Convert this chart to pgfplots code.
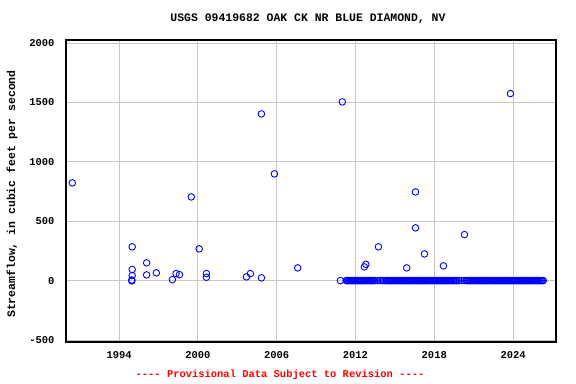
\documentclass[border=0pt]{standalone}
\usepackage{fontspec}
\setmainfont{Liberation Mono}[Ligatures=TeXOff]
\usepackage{pgfplots}
\pgfplotsset{compat=1.18}
\begin{document}
\begin{tikzpicture}
\useasboundingbox (-66bp,-42bp) rectangle (510bp,342bp);
\begin{axis}[
  at={(0,0)}, anchor=south west,
  scale only axis, width=490bp, height=302bp,
  xmin=1989.96, xmax=2027.27, ymin=-517, ymax=2025,
  xtick={1994,2000,2006,2012,2018,2024},
  ytick={-500,0,500,1000,1500,2000},
  xticklabels={1994,2000,2006,2012,2018,2024},
  yticklabels={-500,0,500,1000,1500,2000},
  grid=major, major grid style={draw=black!22, line width=0.8pt},
  major tick length=0pt,
  axis line style={line width=1.1pt},
  tick label style={font=\fontsize{10.5}{12}\selectfont\bfseries},
  /pgf/number format/assume math mode=true,
  xticklabel style={yshift=-6bp},
  yticklabel style={xshift=-8bp},
  clip=false,
]
\addplot[only marks, mark=o, mark size=3.3pt, blue, mark options={line width=0.9pt}] table {
x y
1990.44 822
2004.84 1403
2005.83 898
1999.50 704
1995.00 284
2000.10 267
1996.10 149
1995.00 93
2007.60 107
1995.00 42
1994.97 5
1994.97 -3
1996.10 48
1996.84 65
1998.06 8
1998.34 59
1998.60 50
2000.65 59
2000.65 28
2003.70 31
2004.00 59
2004.84 23
2011.00 1504
2023.80 1574
2016.57 746
2016.57 444
2013.75 284
2020.30 387
2017.25 224
2012.79 137
2012.68 115
2015.90 107
2018.70 124
2010.85 0
};
\addplot[only marks, mark=o, mark size=3.3pt, blue, mark options={line width=0.9pt}] table {
x y
2011.30 0
2011.38 0
2011.46 0
2011.55 0
2011.62 0
2011.70 0
2011.78 0
2011.86 0
2011.94 0
2012.02 0
2012.10 0
2012.18 0
2012.26 0
2012.34 0
2012.42 0
2012.50 0
2012.58 0
2012.66 0
2012.74 0
2012.82 0
2012.90 0
2012.98 0
2013.06 0
2013.14 0
2013.22 0
2013.30 0
2013.38 0
2013.50 0
2013.70 0
2013.90 0
2014.05 0
2014.15 0
2014.25 0
2014.35 0
2014.45 0
2014.55 0
2014.63 0
2014.71 0
2014.79 0
2014.87 0
2014.95 0
2015.03 0
2015.11 0
2015.19 0
2015.27 0
2015.35 0
2015.43 0
2015.51 0
2015.59 0
2015.67 0
2015.75 0
2015.83 0
2015.91 0
2015.99 0
2016.07 0
2016.15 0
2016.23 0
2016.31 0
2016.39 0
2016.47 0
2016.55 0
2016.63 0
2016.71 0
2016.79 0
2016.87 0
2016.95 0
2017.03 0
2017.11 0
2017.19 0
2017.27 0
2017.35 0
2017.43 0
2017.51 0
2017.59 0
2017.67 0
2017.75 0
2017.83 0
2017.91 0
2017.99 0
2018.07 0
2018.15 0
2018.23 0
2018.31 0
2018.39 0
2018.47 0
2018.55 0
2018.63 0
2018.71 0
2018.79 0
2018.87 0
2018.95 0
2019.03 0
2019.11 0
2019.19 0
2019.27 0
2019.35 0
2019.43 0
2019.51 0
2019.59 0
2019.67 0
2019.75 0
2019.90 0
2020.10 0
2020.30 0
2020.45 0
2020.55 0
2020.63 0
2020.71 0
2020.79 0
2020.87 0
2020.95 0
2021.03 0
2021.11 0
2021.19 0
2021.27 0
2021.35 0
2021.43 0
2021.51 0
2021.59 0
2021.67 0
2021.75 0
2021.83 0
2021.91 0
2021.99 0
2022.07 0
2022.15 0
2022.23 0
2022.31 0
2022.39 0
2022.47 0
2022.55 0
2022.63 0
2022.71 0
2022.79 0
2022.87 0
2022.95 0
2023.03 0
2023.11 0
2023.19 0
2023.27 0
2023.35 0
2023.43 0
2023.51 0
2023.59 0
2023.67 0
2023.75 0
2023.83 0
2023.91 0
2023.99 0
2024.07 0
2024.15 0
2024.23 0
2024.31 0
2024.39 0
2024.47 0
2024.55 0
2024.63 0
2024.71 0
2024.79 0
2024.87 0
2024.95 0
2025.03 0
2025.11 0
2025.19 0
2025.27 0
2025.35 0
2025.43 0
2025.51 0
2025.59 0
2025.67 0
2025.75 0
2025.83 0
2025.91 0
2025.99 0
2026.07 0
2026.15 0
2026.23 0
2026.30 0
};
\end{axis}
\node[font=\fontsize{11.5}{13}\selectfont\bfseries] at (242bp,323bp) {USGS 09419682 OAK CK NR BLUE DIAMOND, NV};
\node[font=\fontsize{11.5}{13}\selectfont\bfseries, rotate=90] at (-54bp,148bp) {Streamflow, in cubic feet per second};
\node[font=\fontsize{10.5}{12}\selectfont\bfseries, text=red] at (214bp,-33bp) {---- Provisional Data Subject to Revision ----};
\end{tikzpicture}
\end{document}
